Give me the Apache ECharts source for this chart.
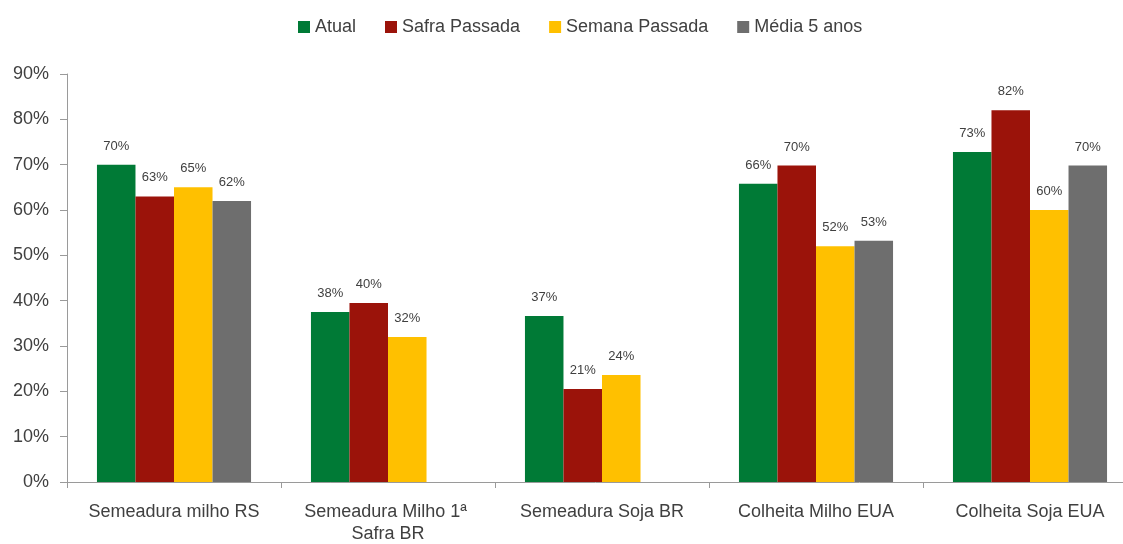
<!DOCTYPE html>
<html>
<head>
<meta charset="utf-8">
<script src="https://cdn.jsdelivr.net/npm/echarts@6/dist/echarts.min.js"></script>
<style>
  html, body { margin: 0; padding: 0; background: #fff; }
  #chart { width: 1123px; height: 544px; }
</style>
</head>
<body>
<div id="chart"></div>
<script>
const categories = [
  "Semeadura milho RS",
  "Semeadura Milho 1ª Safra BR",
  "Semeadura Soja BR",
  "Colheita Milho EUA",
  "Colheita Soja EUA"
];
const atual = [70, 37.5, 36.6, 65.8, 72.8];
const safraPassada = [63, 39.5, 20.5, 69.8, 82];
const semanaPassada = [65, 32, 23.6, 52, 60];
const media5anos = [62, null, null, 53.2, 69.8];
const yTicks = [0, 10, 20, 30, 40, 50, 60, 70, 80, 90];

const font = "Liberation Sans";
const textColor = "#404040";

function makeSeries(name, data, color) {
  return {
    name: name,
    type: "bar",
    data: data,
    barGap: "0%",
    barCategoryGap: "28%",
    itemStyle: { color: color },
    label: {
      show: true,
      position: "top",
      distance: 12,
      color: textColor,
      fontFamily: font,
      fontSize: 13,
      formatter: (p) => Math.round(p.value) + "%"
    }
  };
}

const chart = echarts.init(document.getElementById("chart"));

const option = {
  animation: false,
  legend: {
    top: 13,
    left: 293,
    itemWidth: 12,
    itemHeight: 12,
    itemGap: 29,
    icon: "rect",
    textStyle: { color: textColor, fontFamily: font, fontSize: 18 }
  },
  // the plot runs a little past the right edge of the picture
  grid: { left: 67, width: 1070, top: 74, bottom: 62, outerBoundsMode: "none" },
  xAxis: {
    type: "category",
    data: categories,
    axisLine: { lineStyle: { color: "#9a9a9a" } },
    axisTick: { show: true, length: 6, lineStyle: { color: "#9a9a9a" } },
    axisLabel: {
      color: textColor,
      fontFamily: font,
      fontSize: 18,
      margin: 19,
      lineHeight: 22,
      width: 190,
      overflow: "break",
      interval: 0
    }
  },
  yAxis: {
    type: "value",
    min: yTicks[0],
    max: yTicks[yTicks.length - 1],
    interval: 10,
    splitLine: { show: false },
    axisLine: { show: true, lineStyle: { color: "#9a9a9a" } },
    axisTick: { show: true, length: 7, lineStyle: { color: "#9a9a9a" } },
    axisLabel: {
      color: textColor,
      fontFamily: font,
      fontSize: 18,
      margin: 18,
      formatter: "{value}%"
    }
  },
  series: [
    makeSeries("Atual", atual, "#007A36"),
    makeSeries("Safra Passada", safraPassada, "#9B130A"),
    makeSeries("Semana Passada", semanaPassada, "#FFC000"),
    makeSeries("Média 5 anos", media5anos, "#6E6E6E")
  ]
};

chart.setOption(option);
</script>
</body>
</html>
